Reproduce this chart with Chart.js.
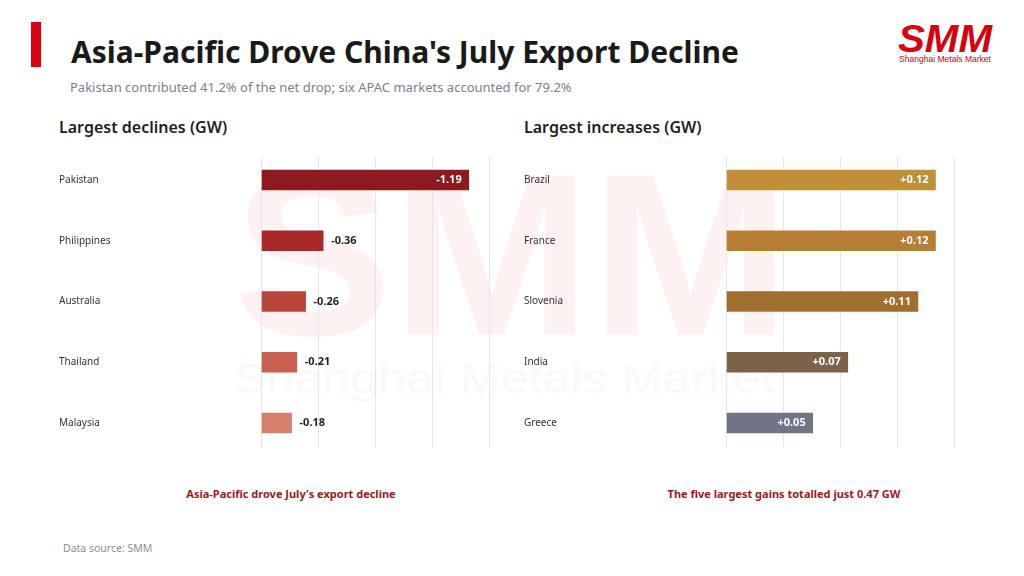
<!DOCTYPE html>
<html>
<head>
<meta charset="utf-8">
<script src="https://cdn.jsdelivr.net/npm/chart.js@4.4.1/dist/chart.umd.min.js"></script>
<style>
  html,body{margin:0;padding:0;background:#fff;}
  body{width:1024px;height:576px;position:relative;overflow:hidden;font-family:"Noto Sans",sans-serif;}
  .abs{position:absolute;white-space:nowrap;}
  #redbar{left:31px;top:22px;width:10px;height:45px;background:#d9000f;}
  #title{left:71px;top:32px;font-size:30px;font-weight:700;color:#1a1a1a;line-height:40px;letter-spacing:0px;}
  #subtitle{left:70px;top:78px;font-size:13px;color:#7b8190;line-height:18px;}
  .head{top:116px;font-size:16px;font-weight:600;color:#1f1f1f;line-height:22px;}
  .caption{top:486px;font-size:11px;font-weight:700;color:#9b1a1e;line-height:16px;transform:translateX(-50%);}
  #source{left:63px;top:541px;font-size:10.5px;color:#8a8f99;line-height:14px;}
  canvas{position:absolute;}
  #wm,#logo{position:absolute;left:0;top:0;}
</style>
</head>
<body>
<svg id="wm" width="1024" height="576">
  <text x="233" y="335" font-family="Liberation Sans, Arial, sans-serif" font-weight="700" font-size="232" textLength="557" lengthAdjust="spacingAndGlyphs" fill="#e60012" fill-opacity="0.055">SMM</text>
  <text x="233" y="393" font-family="Liberation Sans, Arial, sans-serif" font-size="42" textLength="542" lengthAdjust="spacingAndGlyphs" fill="#e60012" fill-opacity="0.055">Shanghai Metals Market</text>
</svg>
<div id="redbar" class="abs"></div>
<div id="title" class="abs">Asia-Pacific Drove China's July Export Decline</div>
<div id="subtitle" class="abs">Pakistan contributed 41.2% of the net drop; six APAC markets accounted for 79.2%</div>
<div class="abs head" style="left:59px;">Largest declines (GW)</div>
<div class="abs head" style="left:524px;">Largest increases (GW)</div>
<svg id="logo" width="1024" height="80">
  <text x="898" y="52" font-family="Liberation Sans, Arial, sans-serif" font-weight="700" font-style="italic" font-size="38" textLength="94" lengthAdjust="spacingAndGlyphs" fill="#d7000f">SMM</text>
  <text x="899" y="62" font-family="Liberation Sans, Arial, sans-serif" font-size="9.5" textLength="92" lengthAdjust="spacingAndGlyphs" fill="#d7000f">Shanghai Metals Market</text>
</svg>
<canvas id="c1" style="left:59px;top:140px;width:440px;height:320px;" width="440" height="320"></canvas>
<canvas id="c2" style="left:524px;top:140px;width:440px;height:320px;" width="440" height="320"></canvas>
<div class="abs caption" style="left:291px;">Asia-Pacific drove July's export decline</div>
<div class="abs caption" style="left:784px;">The five largest gains totalled just 0.47 GW</div>
<div id="source" class="abs">Data source: SMM</div>

<script>
// ---- data ----
const declineCountries = ["Pakistan", "Philippines", "Australia", "Thailand", "Malaysia"];
const declineValues = [-1.19, -0.36, -0.26, -0.21, -0.18];
const increaseCountries = ["Brazil", "France", "Slovenia", "India", "Greece"];
const increaseValues = [0.12, 0.12, 0.11, 0.07, 0.05];
const declineAxisMax = 1.3;
const increaseAxisMax = 0.13;

// ---- styles ----
const declineColors = ["#8e1a1e", "#a8292a", "#b9453b", "#c9604f", "#d4806a"];
const increaseColors = ["#c08f37", "#b57e34", "#a06f30", "#7b6249", "#6f7585"];

const FONT = '"Noto Sans", sans-serif';

const gridPlugin = {
  id: 'customGrid',
  beforeDatasetsDraw(chart) {
    const {ctx, chartArea, scales} = chart;
    const xs = scales.x;
    ctx.save();
    ctx.strokeStyle = '#e3e6ee';
    ctx.lineWidth = 1;
    xs.ticks.forEach(t => {
      const x = Math.round(xs.getPixelForValue(t.value)) + 0.5;
      ctx.beginPath();
      ctx.moveTo(x, chartArea.top + 7.4);
      ctx.lineTo(x, chartArea.bottom - 5.4);
      ctx.stroke();
    });
    ctx.restore();
  }
};

const labelPlugin = {
  id: 'valueLabels',
  afterDatasetsDraw(chart) {
    const {ctx, chartArea} = chart;
    const meta = chart.getDatasetMeta(0);
    const raw = chart.data.datasets[0].rawValues;
    ctx.save();
    ctx.font = 'bold 11px ' + FONT;
    ctx.textBaseline = 'middle';
    meta.data.forEach((bar, i) => {
      const v = raw[i];
      const txt = (v > 0 ? '+' : '') + v.toFixed(2);
      const w = bar.x - bar.base;
      if (w > 0.35 * (chartArea.right - chartArea.left)) {
        ctx.fillStyle = '#ffffff';
        ctx.textAlign = 'right';
        ctx.fillText(txt, bar.x - 8, bar.y);
      } else {
        ctx.fillStyle = '#1f1f1f';
        ctx.textAlign = 'left';
        ctx.fillText(txt, bar.x + 7, bar.y);
      }
    });
    ctx.restore();
  }
};

function makeChart(id, labels, values, colors, axisMax) {
  return new Chart(document.getElementById(id), {
    type: 'bar',
    data: {
      labels: labels,
      datasets: [{
        data: values.map(v => Math.abs(v)),
        rawValues: values,
        backgroundColor: colors,
        borderColor: 'rgba(255,255,255,0.35)',
        borderWidth: 1,
        borderSkipped: false,
        barThickness: 22
      }]
    },
    options: {
      indexAxis: 'y',
      responsive: false,
      animation: false,
      devicePixelRatio: 1,
      layout: { padding: { left: 0, right: 10, top: 9.6, bottom: 6.6 } },
      plugins: { legend: { display: false }, tooltip: { enabled: false } },
      scales: {
        x: {
          min: 0, max: axisMax,
          afterBuildTicks: s => { s.ticks = [0, 1, 2, 3, 4].map(i => ({ value: axisMax * i / 4 })); },
          afterFit: s => { s.height = 0; },
          grid: { display: false },
          border: { display: false },
          ticks: { display: false, padding: 0 }
        },
        y: {
          afterFit: s => { s.width = 202; },
          grid: { display: false },
          border: { display: false },
          ticks: { crossAlign: 'far', color: '#333333', font: { family: FONT, size: 10 }, padding: 0 }
        }
      }
    },
    plugins: [gridPlugin, labelPlugin]
  });
}

makeChart('c1', declineCountries, declineValues, declineColors, declineAxisMax);
makeChart('c2', increaseCountries, increaseValues, increaseColors, increaseAxisMax);
</script>
</body>
</html>
